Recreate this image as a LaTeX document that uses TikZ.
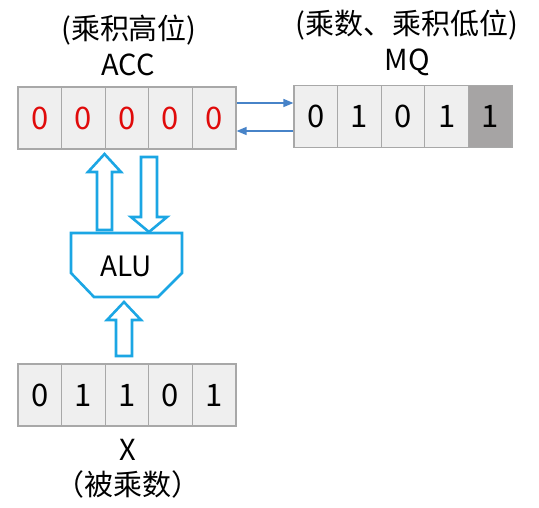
\documentclass[tikz,border=0pt]{standalone}
\usepackage{fontspec}
\setmainfont{Noto Sans CJK SC}
\usetikzlibrary{arrows.meta,calc}
\definecolor{cellfill}{HTML}{EFEFEF}
\definecolor{celldraw}{HTML}{A8A8A8}
\definecolor{darkcell}{HTML}{A6A4A4}
\definecolor{accred}{HTML}{E00A0A}
\definecolor{alublue}{HTML}{1BA6E4}
\definecolor{linkblue}{HTML}{4783C8}
\begin{document}
\begin{tikzpicture}[x=1pt,y=-1pt,
  cell/.style={draw=celldraw,line width=1.2pt,fill=cellfill,minimum width=43.6pt,minimum height=62pt,inner sep=0pt,font=\fontsize{31}{33}\selectfont},
  redtxt/.style={text=accred},
  lbl/.style={font=\fontsize{29}{31}\selectfont,inner sep=0pt},
  fat/.style={draw=alublue,line width=2.6pt,fill=white,line join=miter},
  link/.style={draw=linkblue,line width=1.5pt,-{Triangle[length=10pt,width=8pt]}}]
\useasboundingbox (0,0) rectangle (539,508);
% ACC
\foreach \i in {0,...,4}{
  \node[cell,redtxt] (acc\i) at ({18+43.6*(\i+0.5)},118) {0};
}
% MQ
\node[cell] (mq0) at (315.8,116.5) {0};
\node[cell] (mq1) at (359.4,116.5) {1};
\node[cell] (mq2) at (403.0,116.5) {0};
\node[cell] (mq3) at (446.6,116.5) {1};
\node[cell,fill=darkcell] (mq4) at (490.2,116.5) {1};
% X
\node[cell] (x0) at (39.8,395) {0};
\node[cell] (x1) at (83.4,395) {1};
\node[cell] (x2) at (127.0,395) {1};
\node[cell] (x3) at (170.6,395) {0};
\node[cell] (x4) at (214.2,395) {1};
% labels
\node[lbl] (acct) at (129,30) {(乘积高位)};
\node[lbl] (accn) at (128,65) {ACC};
\node[lbl] (mqt) at (407,25) {(乘数、乘积低位)};
\node[lbl] (mqn) at (407,62) {MQ};
\node[lbl] (xn) at (128,450) {X};
\node[lbl] (xt) at (128,484) {（被乘数）};
% links between ACC and MQ
\coordinate (a1) at ($(acc4.east)+(0,-15)$);
\coordinate (m1) at ($(mq0.west)+(0,-13.5)$);
\coordinate (a2) at ($(acc4.east)+(0,13)$);
\coordinate (m2) at ($(mq0.west)+(0,14.5)$);
\draw[link] (a1) -- (m1);
\draw[link] (m2) -- (a2);
% ALU
\draw[fat] (71,233) -- (182,233) -- (182,273) -- (158,297) -- (94,297) -- (71,273) -- cycle;
\node[font=\fontsize{28}{30}\selectfont] (alu) at (126,266) {ALU};
% up arrow ALU -> ACC
\draw[fat] (97,230) -- (97,172) -- (88,172) -- (104.5,154) -- (121,172) -- (112,172) -- (112,230) -- cycle;
% down arrow ACC -> ALU
\draw[fat] (141,157) -- (157,157) -- (157,217) -- (167,217) -- (149,232) -- (131,217) -- (141,217) -- cycle;
% up arrow X -> ALU
\draw[fat] (116,356) -- (116,320) -- (107,320) -- (124,302) -- (141,320) -- (132,320) -- (132,356) -- cycle;
\end{tikzpicture}
\end{document}
